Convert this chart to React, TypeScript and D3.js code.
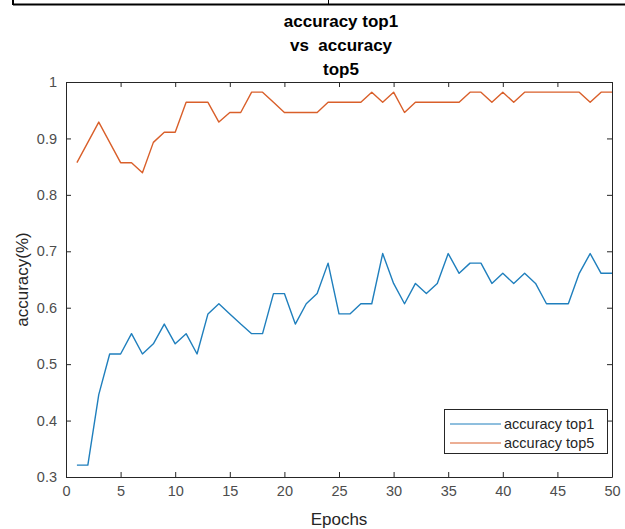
import React, { useRef, useEffect } from 'react';
import * as d3 from 'd3';

// epochs on the x axis
const epochs = [
  1, 2, 3, 4, 5, 6, 7, 8, 9, 10, 11, 12, 13, 14, 15, 16, 17, 18, 19, 20, 21, 22, 23, 24, 25,
  26, 27, 28, 29, 30, 31, 32, 33, 34, 35, 36, 37, 38, 39, 40, 41, 42, 43, 44, 45, 46, 47, 48, 49, 50,
];

const top1 = [
  0.321, 0.321, 0.446, 0.518, 0.518, 0.554, 0.518, 0.536, 0.571, 0.536,
  0.554, 0.518, 0.589, 0.607, 0.589, 0.571, 0.554, 0.554, 0.625, 0.625,
  0.571, 0.607, 0.625, 0.679, 0.589, 0.589, 0.607, 0.607, 0.696, 0.643,
  0.607, 0.643, 0.625, 0.643, 0.696, 0.661, 0.679, 0.679, 0.643, 0.661,
  0.643, 0.661, 0.643, 0.607, 0.607, 0.607, 0.661, 0.696, 0.661, 0.661,
];

const top5 = [
  0.857, 0.893, 0.929, 0.893, 0.857, 0.857, 0.839, 0.893, 0.911, 0.911,
  0.964, 0.964, 0.964, 0.929, 0.946, 0.946, 0.982, 0.982, 0.964, 0.946,
  0.946, 0.946, 0.946, 0.964, 0.964, 0.964, 0.964, 0.982, 0.964, 0.982,
  0.946, 0.964, 0.964, 0.964, 0.964, 0.964, 0.982, 0.982, 0.964, 0.982,
  0.964, 0.982, 0.982, 0.982, 0.982, 0.982, 0.982, 0.964, 0.982, 0.982,
];

const xTicks = [0, 5, 10, 15, 20, 25, 30, 35, 40, 45, 50];
const yTicks = [0.3, 0.4, 0.5, 0.6, 0.7, 0.8, 0.9, 1];
const seriesNames = ['accuracy top1', 'accuracy top5'];
const titleLines = ['accuracy top1', 'vs  accuracy', 'top5'];

const App = () => {
  const svgRef = useRef<SVGSVGElement>(null);

  useEffect(() => {
    const width = 625;
    const height = 529;
    const margin = { left: 66, right: 13, top: 82, bottom: 52 };
    const font = "'Liberation Sans', Arial, sans-serif";
    const axisColor = '#262626';
    const colors = ['#1f7fbd', '#d95f2a'];

    const svg = d3.select(svgRef.current);
    svg.selectAll('*').remove();
    svg.attr('width', width).attr('height', height).style('background', '#fff');

    // table border remnant at the top of the picture
    svg.append('line').attr('x1', 13).attr('x2', width).attr('y1', 4.5).attr('y2', 4.5)
      .attr('stroke', '#000').attr('stroke-width', 2);
    svg.append('line').attr('x1', 13).attr('x2', 13).attr('y1', 0).attr('y2', 5)
      .attr('stroke', '#000').attr('stroke-width', 2);
    svg.append('line').attr('x1', 328.5).attr('x2', 328.5).attr('y1', 0).attr('y2', 5)
      .attr('stroke', '#000').attr('stroke-width', 1);

    const x = d3.scaleLinear().domain([0, 50]).range([margin.left, width - margin.right]);
    const y = d3.scaleLinear().domain([0.3, 1]).range([height - margin.bottom, margin.top]);

    const x0 = x.range()[0], x1 = x.range()[1];
    const y0 = y.range()[0], y1 = y.range()[1];

    // box axes with inward ticks
    const bottom = svg.append('g').attr('transform', `translate(0,${y0})`)
      .call(d3.axisBottom(x).tickValues(xTicks).tickSizeInner(-5).tickSizeOuter(0).tickPadding(9));
    const top = svg.append('g').attr('transform', `translate(0,${y1})`)
      .call(d3.axisTop(x).tickValues(xTicks).tickSizeInner(-5).tickSizeOuter(0).tickFormat(() => ''));
    const left = svg.append('g').attr('transform', `translate(${x0},0)`)
      .call(d3.axisLeft(y).tickValues(yTicks).tickSizeInner(-5).tickSizeOuter(0).tickPadding(9)
        .tickFormat(d => d3.format('~g')(d as number)));
    const right = svg.append('g').attr('transform', `translate(${x1},0)`)
      .call(d3.axisRight(y).tickValues(yTicks).tickSizeInner(-5).tickSizeOuter(0).tickFormat(() => ''));

    [bottom, top, left, right].forEach(g => {
      g.select('.domain').attr('stroke', axisColor);
      g.selectAll('.tick line').attr('stroke', axisColor);
      g.selectAll('.tick text')
        .attr('fill', '#4d4d4d')
        .style('font-family', font)
        .style('font-size', '14.5px');
    });

    // lines
    const line = d3.line<number>()
      .x((d, i) => x(epochs[i]))
      .y(d => y(d));

    [top1, top5].forEach((series, i) => {
      svg.append('path')
        .datum(series)
        .attr('d', line)
        .attr('fill', 'none')
        .attr('stroke', colors[i])
        .attr('stroke-width', 1.4)
        .attr('stroke-linejoin', 'round');
    });

    // title
    const title = svg.append('text')
      .attr('text-anchor', 'middle')
      .attr('fill', '#000')
      .style('font-family', font)
      .style('font-size', '17px')
      .style('font-weight', 'bold');
    titleLines.forEach((t, i) => {
      title.append('tspan')
        .attr('x', (x0 + x1) / 2 + 2)
        .attr('y', 27 + i * 24)
        .attr('xml:space', 'preserve')
        .style('white-space', 'pre')
        .text(t);
    });

    // axis labels
    svg.append('text')
      .attr('x', (x0 + x1) / 2)
      .attr('y', 525)
      .attr('text-anchor', 'middle')
      .attr('fill', axisColor)
      .style('font-family', font)
      .style('font-size', '17px')
      .text('Epochs');

    svg.append('text')
      .attr('text-anchor', 'middle')
      .attr('transform', `translate(28,${(y0 + y1) / 2}) rotate(-90)`)
      .attr('fill', axisColor)
      .style('font-family', font)
      .style('font-size', '17px')
      .text('accuracy(%)');

    // legend
    const legend = svg.append('g');
    legend.append('rect')
      .attr('x', 444.5).attr('y', 409.5).attr('width', 163).attr('height', 44)
      .attr('fill', '#fff').attr('stroke', axisColor).attr('stroke-width', 1);
    seriesNames.forEach((name, i) => {
      const ly = 424 + i * 19;
      legend.append('line')
        .attr('x1', 450).attr('x2', 501).attr('y1', ly).attr('y2', ly)
        .attr('stroke', colors[i]).attr('stroke-width', 1);
      legend.append('text')
        .attr('x', 504).attr('y', ly + 5)
        .attr('fill', axisColor)
        .style('font-family', font)
        .style('font-size', '14.5px')
        .text(name);
    });
  }, []);

  return (
    <div style={{ position: 'absolute', left: 0, top: 0 }}>
      <svg ref={svgRef}></svg>
    </div>
  );
};

export default App;
